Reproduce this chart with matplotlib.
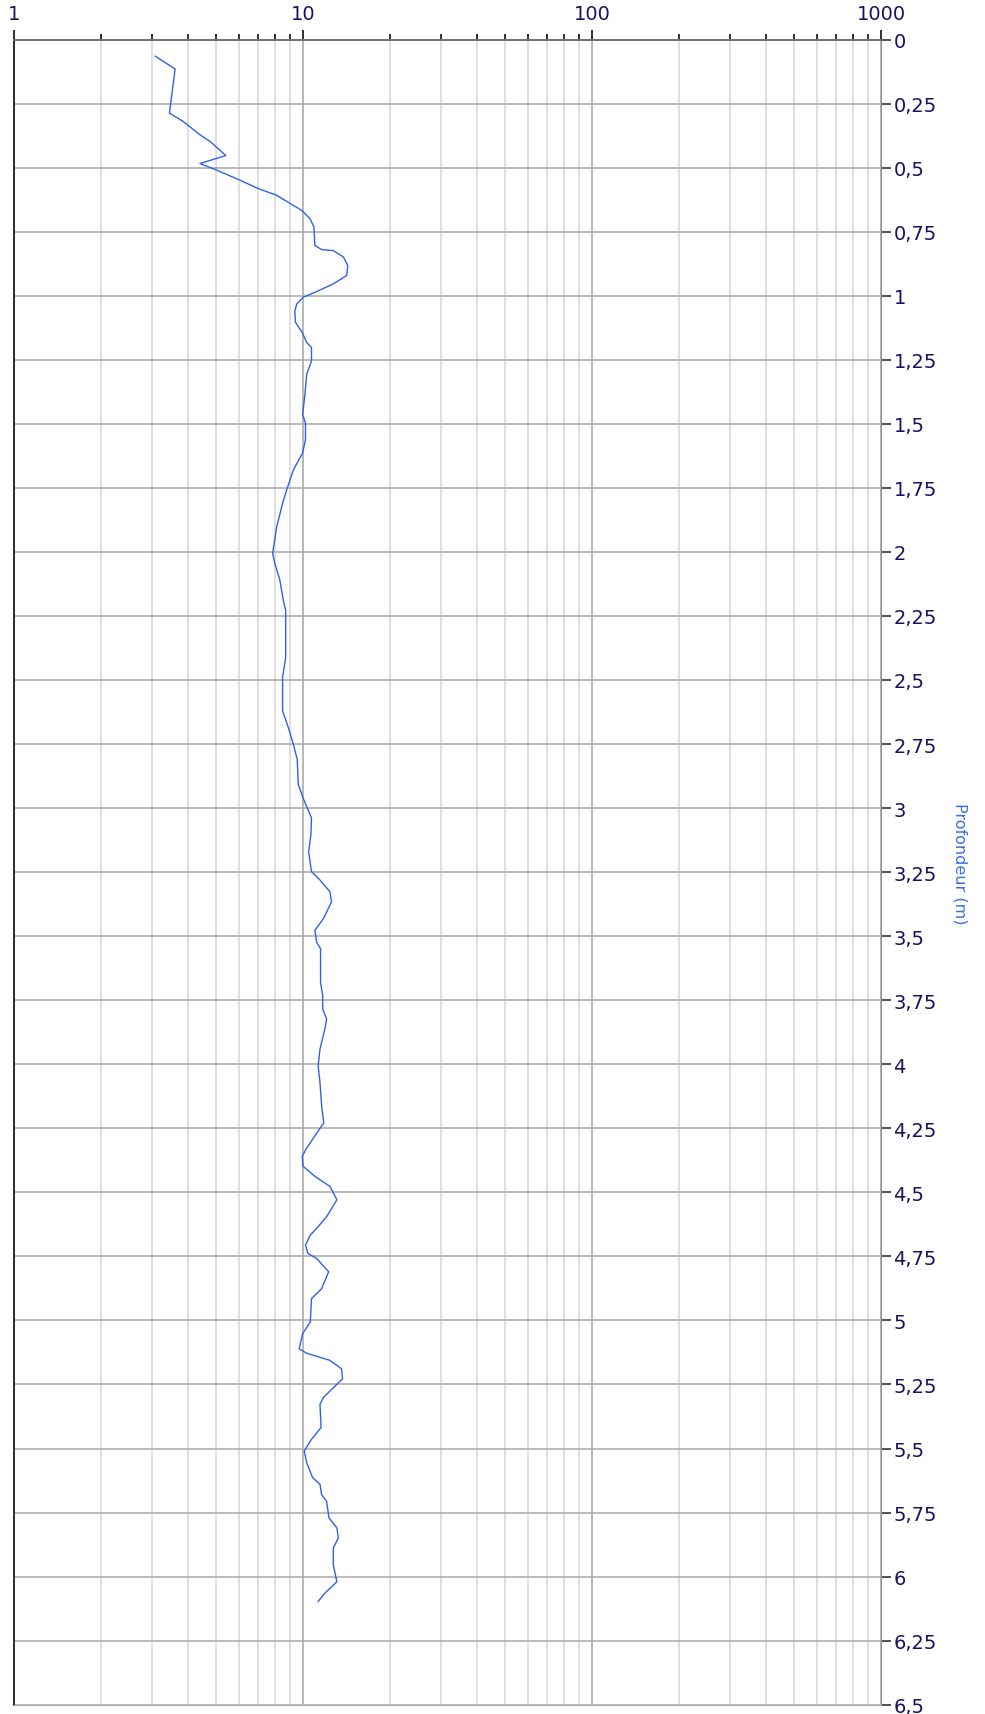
import matplotlib.pyplot as plt
from matplotlib.ticker import FixedLocator, LogLocator, FuncFormatter, NullFormatter

# profil : résistance (échelle log) en fonction de la profondeur (m)
profondeur = [0.065, 0.115, 0.287, 0.32, 0.372, 0.398, 0.453, 0.484, 0.51, 0.549,
              0.582, 0.608, 0.640, 0.667, 0.699, 0.732, 0.804, 0.82, 0.824, 0.849,
              0.882, 0.921, 0.954, 0.987, 1.006, 1.033, 1.06, 1.104, 1.144, 1.183,
              1.202, 1.255, 1.307, 1.392, 1.464, 1.497, 1.562, 1.614, 1.68, 1.758,
              1.81, 1.902, 2.006, 2.045, 2.111, 2.19, 2.229, 2.412, 2.49, 2.621,
              2.686, 2.751, 2.81, 2.908, 2.96, 3.039, 3.104, 3.17, 3.248, 3.281,
              3.327, 3.366, 3.431, 3.477, 3.523, 3.549, 3.68, 3.732, 3.784, 3.824,
              3.863, 3.941, 4.006, 4.072, 4.163, 4.229, 4.261, 4.327, 4.359, 4.398,
              4.438, 4.477, 4.529, 4.595, 4.634, 4.667, 4.706, 4.738, 4.758, 4.81,
              4.876, 4.915, 5.006, 5.052, 5.111, 5.128, 5.156, 5.189, 5.228, 5.30,
              5.327, 5.418, 5.464, 5.51, 5.555, 5.614, 5.64, 5.68, 5.706, 5.771,
              5.81, 5.849, 5.888, 5.954, 6.02, 6.065, 6.097]
valeur = [3.08, 3.61, 3.45, 3.85, 4.40, 4.77, 5.41, 4.40, 5.03, 6.05,
          7.0, 8.11, 9.02, 9.9, 10.57, 10.91, 10.99, 11.6, 12.73, 13.8,
          14.28, 14.17, 12.73, 10.99, 10.02, 9.51, 9.37, 9.42, 9.94, 10.3,
          10.7, 10.7, 10.3, 10.14, 9.97, 10.2, 10.2, 9.97, 9.26, 8.78,
          8.5, 8.11, 7.85, 7.99, 8.32, 8.55, 8.71, 8.71, 8.5, 8.5,
          8.9, 9.26, 9.55, 9.63, 10.0, 10.7, 10.65, 10.46, 10.7, 11.45,
          12.4, 12.55, 11.78, 11.0, 11.14, 11.5, 11.5, 11.7, 11.7, 12.07,
          11.9, 11.45, 11.28, 11.45, 11.6, 11.8, 11.28, 10.3, 9.94, 10.0,
          11.0, 12.4, 13.1, 12.07, 11.28, 10.6, 10.2, 10.4, 11.14, 12.27,
          11.6, 10.7, 10.6, 9.97, 9.7, 10.3, 12.4, 13.6, 13.7, 11.78,
          11.45, 11.55, 10.7, 10.1, 10.3, 10.8, 11.45, 11.6, 12.07, 12.3,
          13.1, 13.25, 12.73, 12.73, 13.1, 11.9, 11.28]

ticks_profondeur = [i * 0.25 for i in range(27)]
ticks_x = [1, 10, 100, 1000]

texte = '#1c1062'

fig = plt.figure(figsize=(9.85, 17.15), dpi=100)
ax = fig.add_axes([14 / 985, 1 - 1705.7 / 1715, 867 / 985, 1665.2 / 1715])

ax.plot(valeur, profondeur, color='#2f62e6', lw=1.0)

ax.set_xscale('log')
ax.set_xlim(1, 1000)
ax.set_ylim(6.5, 0)

# axe x en haut
ax.xaxis.set_ticks_position('top')
ax.xaxis.set_major_locator(FixedLocator(ticks_x))
ax.xaxis.set_minor_locator(LogLocator(base=10, subs=range(2, 10)))
ax.xaxis.set_major_formatter(FuncFormatter(lambda v, p: f'{v:g}'))
ax.xaxis.set_minor_formatter(NullFormatter())
ax.tick_params(axis='x', which='major', direction='out', length=7, width=1.3,
               color='#202020', labelsize=14, labelcolor=texte, pad=5)
ax.tick_params(axis='x', which='minor', direction='out', length=4, width=1.3,
               color='#202020')

# axe y à droite
ax.yaxis.set_ticks_position('right')
ax.set_yticks(ticks_profondeur)
ax.yaxis.set_major_formatter(FuncFormatter(lambda v, p: f'{v:g}'.replace('.', ',')))
ax.tick_params(axis='y', direction='out', length=7, width=1.1, color='#202020',
               labelsize=14, labelcolor=texte, pad=2)
fig.text(960 / 985, 1 - 864 / 1715, 'Profondeur (m)', color='#3a6ee8',
         fontsize=11.5, rotation=-90, ha='center', va='center')

ax.grid(True, which='major', axis='x', color='#a4a4a4', lw=1.1)
ax.grid(True, which='minor', axis='x', color='#d6d6d6', lw=1.1)
ax.grid(True, which='major', axis='y', color='#a8a8a8', lw=1.1)
ax.set_axisbelow(True)

ax.spines['left'].set_color('#202020')
ax.spines['left'].set_linewidth(1.3)
ax.spines['top'].set_color('#707070')
ax.spines['top'].set_linewidth(1.4)
ax.spines['right'].set_color('#909090')
ax.spines['bottom'].set_color('#b0b0b0')

fig.savefig('out.png', dpi=100)
